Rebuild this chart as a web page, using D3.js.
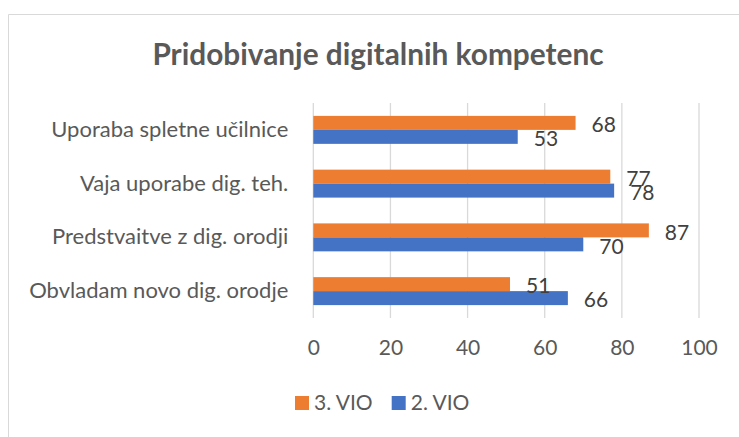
<!DOCTYPE html>
<html><head><meta charset="utf-8">
<script src="https://cdn.jsdelivr.net/npm/d3@7"></script>
<style>body{margin:0;background:#fff}svg{display:block;font-family:Lato,"Open Sans",sans-serif}</style>
</head><body>
<svg id="c" width="739" height="437"></svg>
<script>
const categories = ["Uporaba spletne učilnice","Vaja uporabe dig. teh.","Predstvaitve z dig. orodji","Obvladam novo dig. orodje"];
const seriesNames = ["3. VIO","2. VIO"];
const vio3 = [68,77,87,51];
const vio2 = [53,78,70,66];
const xTicks = [0,20,40,60,80,100];
const colors = ["#ED7D31","#4472C4"];

const svg = d3.select("#c");
svg.append("path").attr("d","M8.5,437V14.5H739").attr("fill","none").attr("stroke","#d9d9d9").attr("stroke-width",1);

svg.append("text").attr("x",378).attr("y",65).attr("text-anchor","middle")
  .attr("font-weight","bold").attr("font-size",29.8).attr("fill","#595959").text("Pridobivanje digitalnih kompetenc");

const x = d3.scaleLinear().domain([0,100]).range([313.3,699]);
const y = d3.scaleBand().domain(categories).range([103,318]).paddingInner(0.48).paddingOuter(0.24);
const inner = d3.scaleBand().domain(seriesNames).range([0,y.bandwidth()]);

svg.append("g").selectAll("line").data(xTicks).join("line")
  .attr("x1",d=>x(d)).attr("x2",d=>x(d)).attr("y1",103).attr("y2",318)
  .attr("stroke","#d9d9d9").attr("stroke-width",1.3);

const xAxis = svg.append("g").attr("transform","translate(0,318)")
  .call(d3.axisBottom(x).tickValues(xTicks).tickSize(0).tickPadding(22));
xAxis.select(".domain").remove();
xAxis.selectAll("text").attr("font-size",21).attr("fill","#595959").attr("font-family","Lato");

const yAxis = svg.append("g").attr("transform","translate(313.3,0)")
  .call(d3.axisLeft(y).tickSize(0).tickPadding(25));
yAxis.select(".domain").remove();
yAxis.selectAll("text").attr("font-size",22).attr("fill","#595959").attr("font-family","Lato");

const rows = categories.map((c,i)=>({c, vals:[vio3[i],vio2[i]]}));
const g = svg.append("g").selectAll("g").data(rows).join("g").attr("transform",d=>`translate(0,${y(d.c)})`);
g.selectAll("rect").data(d=>d.vals.map((v,j)=>({v,s:seriesNames[j],j}))).join("rect")
  .attr("x",x(0)).attr("y",d=>inner(d.s)).attr("width",d=>x(d.v)-x(0)).attr("height",inner.bandwidth())
  .attr("fill",d=>colors[d.j]);
g.selectAll("text").data(d=>d.vals.map((v,j)=>({v,s:seriesNames[j],j}))).join("text")
  .attr("x",d=>x(d.v)+16).attr("y",d=>inner(d.s)+inner.bandwidth()/2+2).attr("dy","0.35em")
  .attr("font-size",21).attr("fill","#404040").text(d=>d.v);

const lg = svg.append("g").selectAll("g").data(seriesNames).join("g")
  .attr("transform",(d,i)=>`translate(${[295,391.7][i]},396)`);
lg.append("rect").attr("width",14).attr("height",14).attr("fill",(d,i)=>colors[i]);
lg.append("text").attr("x",19).attr("y",7).attr("dy","0.35em").attr("font-size",21).attr("fill","#595959").text(d=>d);
</script>
</body></html>
